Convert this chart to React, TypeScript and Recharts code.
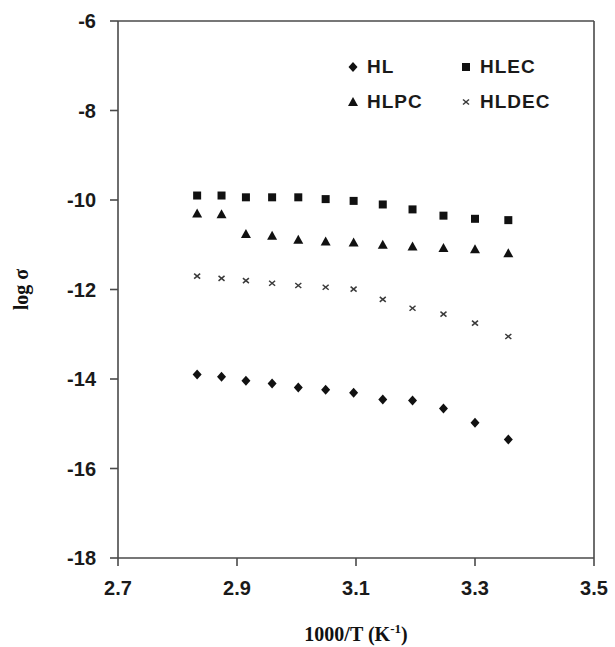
import React from "react";
import {
  ScatterChart,
  Scatter,
  XAxis,
  YAxis,
  ReferenceLine,
} from "recharts";

// 1000/T for T = 353 ... 298 K
const invTemp = [2.833, 2.874, 2.915, 2.959, 3.003, 3.049, 3.096, 3.145, 3.195, 3.247, 3.3, 3.356];

const hl = [-13.9, -13.95, -14.04, -14.1, -14.19, -14.24, -14.31, -14.46, -14.48, -14.66, -14.98, -15.35];
const hlec = [-9.9, -9.9, -9.94, -9.94, -9.94, -9.98, -10.02, -10.1, -10.21, -10.35, -10.42, -10.45];
const hlpc = [-10.3, -10.32, -10.76, -10.8, -10.89, -10.93, -10.95, -11.0, -11.04, -11.07, -11.1, -11.19];
const hldec = [-11.7, -11.75, -11.8, -11.86, -11.91, -11.95, -11.99, -12.22, -12.42, -12.55, -12.75, -13.05];

const xTicks = [2.7, 2.9, 3.1, 3.3, 3.5];
const yTicks = [-18, -16, -14, -12, -10, -8, -6];

const toPoints = (ys: number[]) => invTemp.map((x, i) => ({ x, y: ys[i] }));

const INK = "#111";
const AXIS = "#4a4a4a";

const Diamond = ({ cx, cy }: any) => (
  <polygon points={`${cx},${cy - 5} ${cx + 4.5},${cy} ${cx},${cy + 5} ${cx - 4.5},${cy}`} fill={INK} />
);
const Square = ({ cx, cy }: any) => <rect x={cx - 4} y={cy - 4} width={8} height={8} fill={INK} />;
const Triangle = ({ cx, cy }: any) => (
  <polygon points={`${cx},${cy - 5} ${cx + 5},${cy + 4} ${cx - 5},${cy + 4}`} fill={INK} />
);
const Cross = ({ cx, cy }: any) => (
  <g stroke="#3a3a3a" strokeWidth={1.5}>
    <line x1={cx - 3} y1={cy - 2.5} x2={cx + 3} y2={cy + 2.5} />
    <line x1={cx - 3} y1={cy + 2.5} x2={cx + 3} y2={cy - 2.5} />
  </g>
);

const legendItems = [
  { name: "HL", Shape: Diamond },
  { name: "HLEC", Shape: Square },
  { name: "HLPC", Shape: Triangle },
  { name: "HLDEC", Shape: Cross },
];

// legend sits inside the plot frame, top right, as a 2x2 grid
const LegendBox = () => (
  <div
    style={{
      position: "absolute",
      left: 345,
      top: 56,
      display: "grid",
      gridTemplateColumns: "113px 110px",
      rowGap: 13,
      fontFamily: "'Liberation Sans', Arial, sans-serif",
      fontWeight: "bold",
      fontSize: 19,
      letterSpacing: 1,
      color: "#1a1a1a",
    }}
  >
    {legendItems.map(({ name, Shape }) => (
      <div key={name} style={{ display: "flex", alignItems: "center", height: 22 }}>
        <svg width={16} height={14} style={{ marginRight: 6 }}>
          <Shape cx={8} cy={7} />
        </svg>
        <span>{name}</span>
      </div>
    ))}
  </div>
);

const tickStyle = {
  fontFamily: "'Liberation Sans', Arial, sans-serif",
  fontWeight: "bold",
  fontSize: 20,
  fill: "#1a1a1a",
};

const labelFont = {
  fontFamily: "'Liberation Serif', 'Times New Roman', serif",
  fontWeight: "bold",
  fontSize: 20,
  fill: "#111",
};

const XTitle = ({ viewBox }: any) => {
  const cx = viewBox.x + viewBox.width / 2;
  return (
    <text x={cx} y={641} textAnchor="middle" style={labelFont}>
      1000/T (K
      <tspan dy={-8} fontSize={13}>-1</tspan>
      <tspan dy={8}>)</tspan>
    </text>
  );
};

const YTitle = ({ viewBox }: any) => {
  const cy = viewBox.y + viewBox.height / 2;
  return (
    <text x={0} y={0} textAnchor="middle" transform={`translate(28, ${cy}) rotate(-90)`} style={labelFont}>
      log σ
    </text>
  );
};

export default function App() {
  return (
    <div style={{ position: "absolute", left: 0, top: 0, width: 615, height: 647, background: "#fff" }}>
      <ScatterChart width={615} height={647} margin={{ top: 21, right: 21, left: 0, bottom: 0 }}>
        <XAxis
          type="number"
          dataKey="x"
          domain={[2.7, 3.5]}
          ticks={xTicks}
          tickFormatter={(v: number) => v.toFixed(1)}
          tick={tickStyle}
          tickSize={8}
          tickMargin={15}
          height={89}
          stroke={AXIS}
          strokeWidth={1.6}
          tickLine={{ stroke: AXIS }}
          label={<XTitle />}
        />
        <YAxis
          type="number"
          dataKey="y"
          domain={[-18, -6]}
          ticks={yTicks}
          tick={tickStyle}
          tickSize={8}
          tickMargin={14}
          width={118}
          stroke={AXIS}
          strokeWidth={1.6}
          tickLine={{ stroke: AXIS }}
          label={<YTitle />}
        />
        <ReferenceLine y={-6} stroke={AXIS} strokeWidth={1.6} />
        <ReferenceLine x={3.5} stroke={AXIS} strokeWidth={1.6} />
        <Scatter name="HL" data={toPoints(hl)} shape={<Diamond />} isAnimationActive={false} />
        <Scatter name="HLEC" data={toPoints(hlec)} shape={<Square />} isAnimationActive={false} />
        <Scatter name="HLPC" data={toPoints(hlpc)} shape={<Triangle />} isAnimationActive={false} />
        <Scatter name="HLDEC" data={toPoints(hldec)} shape={<Cross />} isAnimationActive={false} />
      </ScatterChart>
      <LegendBox />
    </div>
  );
}
